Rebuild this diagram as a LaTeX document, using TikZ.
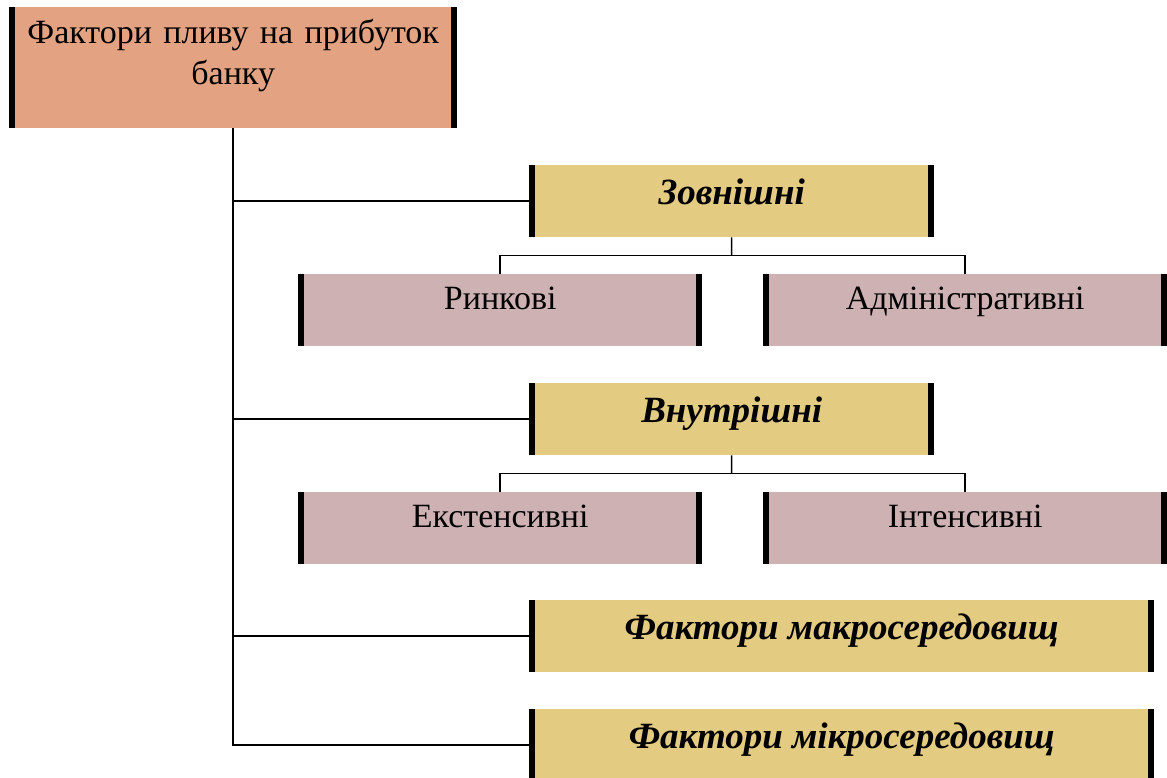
\documentclass[tikz,border=0pt]{standalone}
\usepackage{fontspec}
\setmainfont{Liberation Serif}
\usetikzlibrary{calc}
\definecolor{topfill}{HTML}{E3A382}
\definecolor{grpfill}{HTML}{E4CB82}
\definecolor{subfill}{HTML}{CEB2B3}
\newcommand{\grp}[1]{\fontsize{37}{40}\selectfont\bfseries\itshape #1}
\tikzset{
  bars/.style={path picture={
      \fill[black] (path picture bounding box.north west)
          rectangle ([xshift=6pt]path picture bounding box.south west);
      \fill[black] ([xshift=-6pt]path picture bounding box.north east)
          rectangle (path picture bounding box.south east);}},
  grpbox/.style={bars,fill=grpfill,text height=39pt,text depth=33pt},
  subbox/.style={bars,fill=subfill,minimum width=404pt,text height=35pt,text depth=37pt},
  link/.style={draw=black,line width=1.5pt}
}

\begin{document}
\begin{tikzpicture}[x=1pt,y=-1pt,every node/.style={inner sep=0pt,anchor=north west,
                    font=\fontsize{34}{41}\selectfont}]
 \useasboundingbox (0,0) rectangle (1167,778);

 \draw (9,7)   node[bars,fill=topfill,text width=448pt,align=center,
                    text height=36pt,text depth=85pt] (T)
               {Фактори пливу на прибуток\\банку};

 \draw (529,165) node[grpbox,minimum width=405pt] (Z) {\grp{Зовнішні}};
 \draw (298,274) node[subbox] (R) {Ринкові};
 \draw (763,274) node[subbox] (A) {Адміністративні};

 \draw (529,383) node[grpbox,minimum width=405pt] (V) {\grp{Внутрішні}};
 \draw (298,492) node[subbox] (E) {Екстенсивні};
 \draw (763,492) node[subbox] (I) {Інтенсивні};

 \draw (529,600) node[grpbox,minimum width=625pt] (M) {\grp{Фактори макросередовищ}};
 \draw (529,709) node[grpbox,minimum width=625pt] (N) {\grp{Фактори мікросередовищ}};

 % trunk and branches
 \draw[link] (T.south) |- (N.west);
 \draw[link] (T.south |- Z.west) -- (Z.west);
 \draw[link] (T.south |- V.west) -- (V.west);
 \draw[link] (T.south |- M.west) -- (M.west);

 % sub groups
 \coordinate (zm) at ($(Z.south)!0.5!(Z.south |- R.north)$);
 \draw[link] (Z.south) -- (zm);
 \draw[link] (R.north) |- (zm) -| (A.north);
 \coordinate (vm) at ($(V.south)!0.5!(V.south |- E.north)$);
 \draw[link] (V.south) -- (vm);
 \draw[link] (E.north) |- (vm) -| (I.north);

\end{tikzpicture}
\end{document}
